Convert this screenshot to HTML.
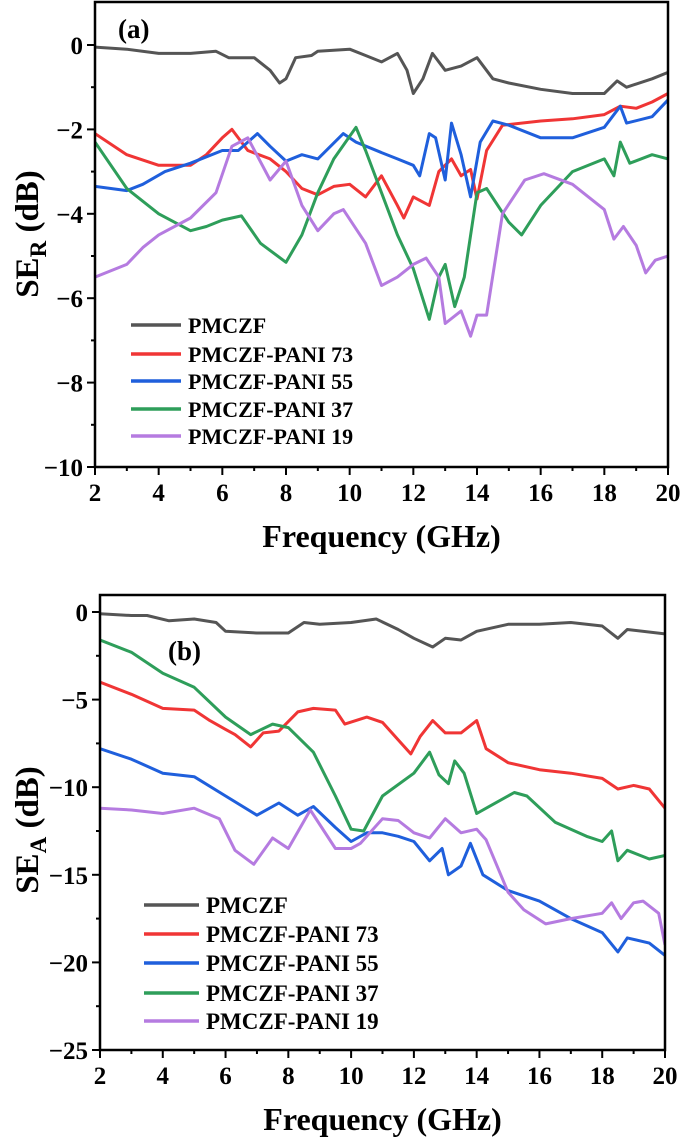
<!DOCTYPE html>
<html><head><meta charset="utf-8"><style>
html,body{margin:0;padding:0;background:#fff}
svg{display:block}
text{font-family:"Liberation Serif",serif;font-weight:bold;fill:#000}
</style></head><body>
<svg id="chart" width="685" height="1141" viewBox="0 0 685 1141" xmlns="http://www.w3.org/2000/svg"></svg>
<script>
// ----- shared -----
const xTicks = [2,4,6,8,10,12,14,16,18,20];
const seriesNames = ["PMCZF","PMCZF-PANI 73","PMCZF-PANI 55","PMCZF-PANI 37","PMCZF-PANI 19"];
const seriesColors = ["#555555","#f03535","#1f5fdc","#2e9e5a","#b57be0"];
// ----- panel a (SE_R) -----
const aTicksY = [0,-2,-4,-6,-8,-10];
const aX0 = [2,3,4,5,5.8,6.2,7,7.5,7.8,8,8.3,8.8,9,10,10.5,11,11.5,11.8,12,12.3,12.6,13,13.5,14,14.5,15,16,17,18,18.4,18.7,19.5,20];
const aY0 = [-0.05,-0.1,-0.2,-0.2,-0.15,-0.3,-0.3,-0.6,-0.9,-0.8,-0.3,-0.25,-0.15,-0.1,-0.25,-0.4,-0.2,-0.6,-1.15,-0.8,-0.2,-0.6,-0.5,-0.3,-0.8,-0.9,-1.05,-1.15,-1.15,-0.85,-1.0,-0.8,-0.65];
const aX1 = [2,3,4,5,5.5,6,6.3,6.8,7.5,8,8.5,9,9.5,10,10.5,11,11.5,11.7,12,12.5,12.8,13.2,13.5,13.8,14,14.3,14.8,16,17,18,18.5,19,19.5,20];
const aY1 = [-2.1,-2.6,-2.85,-2.85,-2.6,-2.2,-2.0,-2.5,-2.7,-3.0,-3.4,-3.55,-3.35,-3.3,-3.6,-3.1,-3.8,-4.1,-3.6,-3.8,-3.0,-2.7,-3.1,-2.95,-3.65,-2.5,-1.9,-1.8,-1.75,-1.65,-1.45,-1.5,-1.35,-1.15];
const aX2 = [2,3,3.5,4.2,5,6,6.5,7.1,7.5,8,8.5,9,9.8,10.2,11,11.5,12,12.2,12.5,12.7,13,13.2,13.5,13.8,14.1,14.5,15,16,17,18,18.5,18.7,19.5,20];
const aY2 = [-3.35,-3.45,-3.3,-3.0,-2.8,-2.5,-2.5,-2.1,-2.4,-2.75,-2.6,-2.7,-2.1,-2.3,-2.55,-2.7,-2.85,-3.1,-2.1,-2.2,-3.2,-1.85,-2.6,-3.6,-2.3,-1.8,-1.9,-2.2,-2.2,-1.95,-1.45,-1.85,-1.7,-1.3];
const aX3 = [2,3,4,5,5.5,6,6.6,7.2,8,8.5,9,9.5,10.2,10.5,11,11.5,12,12.5,12.8,13,13.3,13.6,14,14.3,15,15.4,16,17,18,18.3,18.5,18.8,19.5,20];
const aY3 = [-2.3,-3.4,-4.0,-4.4,-4.3,-4.15,-4.05,-4.7,-5.15,-4.5,-3.5,-2.7,-1.95,-2.5,-3.5,-4.5,-5.3,-6.5,-5.5,-5.2,-6.2,-5.5,-3.5,-3.4,-4.2,-4.5,-3.8,-3.0,-2.7,-3.1,-2.3,-2.8,-2.6,-2.7];
const aX4 = [2,3,3.5,4,5,5.8,6.3,6.8,7.5,8,8.5,9,9.5,9.8,10.5,11,11.5,12,12.4,12.8,13,13.5,13.8,14,14.3,14.8,15.5,16.1,17,18,18.3,18.6,19,19.3,19.6,20];
const aY4 = [-5.5,-5.2,-4.8,-4.5,-4.1,-3.5,-2.4,-2.2,-3.2,-2.75,-3.8,-4.4,-4.0,-3.9,-4.7,-5.7,-5.5,-5.2,-5.05,-5.5,-6.6,-6.3,-6.9,-6.4,-6.4,-4.0,-3.2,-3.05,-3.3,-3.9,-4.6,-4.3,-4.75,-5.4,-5.1,-5.0];
// ----- panel b (SE_A) -----
const bTicksY = [0,-5,-10,-15,-20,-25];
const bX0 = [2,3,3.5,4.2,5,5.7,6,7,8,8.5,9,10,10.8,11.5,12,12.6,13,13.5,14,15,16,17,18,18.5,18.8,20];
const bY0 = [-0.1,-0.2,-0.2,-0.5,-0.4,-0.6,-1.1,-1.2,-1.2,-0.6,-0.7,-0.6,-0.4,-1.0,-1.5,-2.0,-1.5,-1.6,-1.1,-0.7,-0.7,-0.6,-0.8,-1.5,-1.0,-1.25];
const bX1 = [2,3,4,5,5.5,6,6.3,6.8,7.2,7.7,8.3,8.8,9.5,9.8,10.5,11,11.5,11.9,12.2,12.6,13,13.5,14,14.3,15,16,17,18,18.5,19,19.5,20];
const bY1 = [-4.0,-4.7,-5.5,-5.6,-6.2,-6.7,-7.0,-7.7,-6.9,-6.8,-5.7,-5.5,-5.6,-6.4,-6.0,-6.3,-7.3,-8.1,-7.1,-6.2,-6.9,-6.9,-6.2,-7.8,-8.6,-9.0,-9.2,-9.5,-10.1,-9.9,-10.1,-11.2];
const bX2 = [2,3,4,5,6,7,7.7,8.3,8.8,9.5,10,10.5,11,11.5,12,12.5,12.9,13.1,13.5,13.8,14.2,15,16,17,18,18.5,18.8,19.5,20];
const bY2 = [-7.8,-8.4,-9.2,-9.4,-10.5,-11.6,-10.9,-11.6,-11.1,-12.3,-13.1,-12.6,-12.6,-12.8,-13.1,-14.2,-13.5,-15.0,-14.5,-13.2,-15.0,-15.9,-16.5,-17.5,-18.3,-19.4,-18.6,-18.9,-19.6];
const bX3 = [2,3,4,5,6,6.8,7.5,8,8.8,9.5,10,10.4,11,12,12.5,12.8,13.1,13.3,13.6,14,14.5,15.2,15.6,16.5,17.5,18,18.3,18.5,18.8,19.5,20];
const bY3 = [-1.6,-2.3,-3.5,-4.3,-6.0,-7.0,-6.4,-6.6,-8.0,-10.5,-12.4,-12.5,-10.5,-9.2,-8.0,-9.3,-9.8,-8.5,-9.2,-11.5,-11.0,-10.3,-10.5,-12.0,-12.8,-13.1,-12.5,-14.2,-13.6,-14.1,-13.9];
const bX4 = [2,3,4,5,5.8,6.3,6.9,7.5,8,8.7,9.5,10,10.3,11,11.5,12,12.5,13,13.5,14,14.3,15,15.5,16.2,17,18,18.3,18.6,19,19.3,19.8,20];
const bY4 = [-11.2,-11.3,-11.5,-11.2,-11.8,-13.6,-14.4,-12.9,-13.5,-11.3,-13.5,-13.5,-13.2,-11.8,-11.9,-12.6,-12.9,-11.8,-12.6,-12.4,-13.0,-16.0,-17.0,-17.8,-17.5,-17.2,-16.6,-17.5,-16.6,-16.5,-17.2,-19.0];

const NS = "http://www.w3.org/2000/svg";
const svg = document.getElementById('chart');
function mk(tag, attrs, parent, txt){
  const e = document.createElementNS(NS, tag);
  for (const k in attrs) e.setAttribute(k, attrs[k]);
  if (txt !== undefined) e.textContent = txt;
  (parent||svg).appendChild(e);
  return e;
}

function panel(cfg){
  const g = mk('g', {});
  
  
  const sx = v => cfg.L + (v - 2) / 18 * (cfg.R - cfg.L);
  const sy = v => cfg.y0 + (0 - v) / (0 - cfg.ymin) * (cfg.yb - cfg.y0);
  const clip = mk('clipPath', {id: cfg.name + '-clip'}, g);
  mk('rect', {x: cfg.L, y: cfg.T, width: cfg.R - cfg.L, height: cfg.yb - cfg.T}, clip);
  cfg.xs.forEach((xs, i) => {
    const d = xs.map((x, j) => (j ? 'L' : 'M') + sx(x).toFixed(1) + ',' + sy(cfg.ys[i][j]).toFixed(1)).join(' ');
    const p = mk('path', {d: d, fill: 'none', stroke: seriesColors[i], 'stroke-width': 3, 'stroke-linejoin': 'round', 'clip-path': 'url(#' + cfg.name + '-clip)'}, g);
    
    
  });
  const fr = mk('rect', {x: cfg.L, y: cfg.T, width: cfg.R - cfg.L, height: cfg.yb - cfg.T, fill: 'none', stroke: '#000', 'stroke-width': 2.5}, g);
  
  
  xTicks.forEach((t, i) => {
    mk('line', {x1: sx(t), x2: sx(t), y1: cfg.yb, y2: cfg.yb + 8, stroke: '#000', 'stroke-width': 2}, g);
    if (i < xTicks.length - 1) mk('line', {x1: sx(t + 1), x2: sx(t + 1), y1: cfg.yb, y2: cfg.yb + 4, stroke: '#000', 'stroke-width': 2}, g);
    const tl = mk('text', {x: sx(t), y: cfg.yb + 34, 'font-size': 25, 'text-anchor': 'middle'}, g, String(t));
    
    
  });
  const step = cfg.ticksY[0] - cfg.ticksY[1];
  cfg.ticksY.forEach((t, i) => {
    mk('line', {x1: cfg.L - 8, x2: cfg.L, y1: sy(t), y2: sy(t), stroke: '#000', 'stroke-width': 2}, g);
    const my = sy(t + step / 2);
    if (my > cfg.T + 2) mk('line', {x1: cfg.L - 4, x2: cfg.L, y1: my, y2: my, stroke: '#000', 'stroke-width': 2}, g);
    const lbl = (t < 0 ? '\u2212' + (-t) : String(t));
    const tl = mk('text', {x: cfg.L - 12, y: sy(t) + 9, 'font-size': 25, 'text-anchor': 'end'}, g, lbl);
    
    
  });
  const xt = mk('text', {x: (cfg.L + cfg.R) / 2, y: cfg.yb + 80, 'font-size': 32, 'text-anchor': 'middle'}, g, 'Frequency (GHz)');
  
  
  const yt = mk('text', {x: 0, y: 0, 'font-size': 33, 'text-anchor': 'middle', transform: 'translate(' + cfg.ytx + ',' + cfg.yty + ') rotate(-90)'}, g);
  
  
  mk('tspan', {}, yt, 'SE');
  mk('tspan', {'font-size': 23, dy: 8}, yt, cfg.sub);
  mk('tspan', {dy: -8}, yt, ' (dB)');
  const pl = mk('text', {x: cfg.labX, y: cfg.labY, 'font-size': 27}, g, cfg.lab);
  
  
  seriesNames.forEach((n, i) => {
    const y = cfg.legY[i];
    const le = mk('g', {}, g);
    
    
    mk('line', {x1: cfg.legX1, x2: cfg.legX2, y1: y, y2: y, stroke: seriesColors[i], 'stroke-width': 3.5}, le);
    mk('text', {x: cfg.legX2 + 7, y: y + 8, 'font-size': cfg.legFs}, le, n);
  });
}

panel({name: 'panel-a-ser', L: 95, R: 668, T: 2, y0: 45, yb: 467, ymin: -10, ticksY: aTicksY,
  xs: [aX0, aX1, aX2, aX3, aX4], ys: [aY0, aY1, aY2, aY3, aY4], sub: 'R', ytx: 38, yty: 234,
  lab: '(a)', labX: 118, labY: 38, legX1: 131, legX2: 181, legFs: 22, legY: [325, 354, 381, 409, 436]});
panel({name: 'panel-b-sea', L: 100, R: 665, T: 595, y0: 612, yb: 1050, ymin: -25, ticksY: bTicksY,
  xs: [bX0, bX1, bX2, bX3, bX4], ys: [bY0, bY1, bY2, bY3, bY4], sub: 'A', ytx: 38, yty: 830,
  lab: '(b)', labX: 168, labY: 660, legX1: 144, legX2: 199, legFs: 23, legY: [905, 934, 963, 993, 1021]});
</script>
</body></html>
